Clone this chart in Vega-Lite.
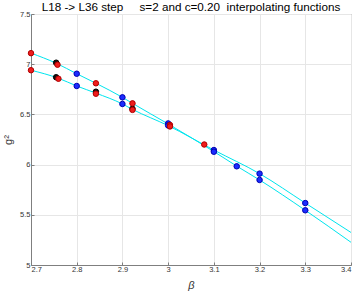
{
  "$schema": "https://vega.github.io/schema/vega-lite/v6.json",
  "width": 320,
  "height": 251,
  "autosize": "none",
  "padding": {"left": 31, "top": 14, "right": 6, "bottom": 28},
  "background": "white",
  "config": {
    "font": "Liberation Sans",
    "view": {"stroke": "#7f7f7f", "strokeWidth": 1},
    "axis": {
      "gridColor": "#e6e6e6",
      "domainColor": "#7f7f7f",
      "tickColor": "#7f7f7f",
      "labelColor": "#333333",
      "labelFontSize": 7.5,
      "labelFont": "Liberation Sans",
      "titleFont": "Liberation Sans",
      "titleFontWeight": "normal",
      "titleColor": "#333333",
      "tickSize": -3
    }
  },
  "title": {
    "text": "L18 -> L36 step\u00a0\u00a0\u00a0\u00a0 s=2 and c=0.20 \u00a0interpolating functions",
    "fontSize": 11.7,
    "fontWeight": "normal",
    "font": "Liberation Sans",
    "color": "#000000",
    "offset": -4,
    "anchor": "middle"
  },
  "datasets": {
    "curves": [
      {"beta": 2.7, "g2": 7.11, "curve": "A"},
      {"beta": 2.755, "g2": 7.01, "curve": "A"},
      {"beta": 2.8, "g2": 6.905, "curve": "A"},
      {"beta": 2.842, "g2": 6.81, "curve": "A"},
      {"beta": 2.9, "g2": 6.67, "curve": "A"},
      {"beta": 2.922, "g2": 6.61, "curve": "A"},
      {"beta": 3.0, "g2": 6.405, "curve": "A"},
      {"beta": 3.1, "g2": 6.13, "curve": "A"},
      {"beta": 3.15, "g2": 5.985, "curve": "A"},
      {"beta": 3.2, "g2": 5.847, "curve": "A"},
      {"beta": 3.3, "g2": 5.545, "curve": "A"},
      {"beta": 3.4, "g2": 5.226, "curve": "A"},
      {"beta": 2.7, "g2": 6.94, "curve": "B"},
      {"beta": 2.76, "g2": 6.86, "curve": "B"},
      {"beta": 2.8, "g2": 6.783, "curve": "B"},
      {"beta": 2.842, "g2": 6.712, "curve": "B"},
      {"beta": 2.9, "g2": 6.604, "curve": "B"},
      {"beta": 2.922, "g2": 6.55, "curve": "B"},
      {"beta": 3.0, "g2": 6.388, "curve": "B"},
      {"beta": 3.1, "g2": 6.145, "curve": "B"},
      {"beta": 3.2, "g2": 5.91, "curve": "B"},
      {"beta": 3.3, "g2": 5.617, "curve": "B"},
      {"beta": 3.4, "g2": 5.324, "curve": "B"}
    ],
    "points": [
      {"beta": 2.755, "g2": 7.015, "series": "black", "order": 1},
      {"beta": 2.755, "g2": 6.87, "series": "black", "order": 1},
      {"beta": 2.842, "g2": 6.726, "series": "black", "order": 1},
      {"beta": 2.922, "g2": 6.556, "series": "black", "order": 1},
      {"beta": 2.8, "g2": 6.905, "series": "blue", "order": 2},
      {"beta": 2.8, "g2": 6.783, "series": "blue", "order": 2},
      {"beta": 2.9, "g2": 6.67, "series": "blue", "order": 2},
      {"beta": 2.9, "g2": 6.604, "series": "blue", "order": 2},
      {"beta": 3.0, "g2": 6.41, "series": "blue", "order": 2},
      {"beta": 3.0, "g2": 6.39, "series": "blue", "order": 2},
      {"beta": 3.1, "g2": 6.145, "series": "blue", "order": 2},
      {"beta": 3.1, "g2": 6.128, "series": "blue", "order": 2},
      {"beta": 3.15, "g2": 5.983, "series": "blue", "order": 2},
      {"beta": 3.2, "g2": 5.91, "series": "blue", "order": 2},
      {"beta": 3.2, "g2": 5.847, "series": "blue", "order": 2},
      {"beta": 3.3, "g2": 5.617, "series": "blue", "order": 2},
      {"beta": 3.3, "g2": 5.545, "series": "blue", "order": 2},
      {"beta": 2.7, "g2": 7.11, "series": "red", "order": 3},
      {"beta": 2.7, "g2": 6.94, "series": "red", "order": 3},
      {"beta": 2.758, "g2": 6.995, "series": "red", "order": 3},
      {"beta": 2.76, "g2": 6.855, "series": "red", "order": 3},
      {"beta": 2.842, "g2": 6.81, "series": "red", "order": 3},
      {"beta": 2.842, "g2": 6.706, "series": "red", "order": 3},
      {"beta": 2.922, "g2": 6.61, "series": "red", "order": 3},
      {"beta": 2.922, "g2": 6.545, "series": "red", "order": 3},
      {"beta": 3.004, "g2": 6.395, "series": "red", "order": 3},
      {"beta": 3.004, "g2": 6.38, "series": "red", "order": 3},
      {"beta": 3.079, "g2": 6.2, "series": "red", "order": 3}
    ]
  },
  "encoding": {
    "x": {
      "field": "beta",
      "type": "quantitative",
      "scale": {"domain": [2.7, 3.4], "nice": false, "zero": false},
      "axis": {
        "values": [2.7, 2.8, 2.9, 3.0, 3.1, 3.2, 3.3, 3.4],
        "labelExpr": "format(datum.value, '.1~f')",
        "title": "β",
        "titleFontSize": 11,
        "titleFontStyle": "italic",
        "titlePadding": 7,
        "labelPadding": 3
      }
    },
    "y": {
      "field": "g2",
      "type": "quantitative",
      "scale": {"domain": [5, 7.5], "nice": false, "zero": false},
      "axis": {
        "values": [5, 5.5, 6, 6.5, 7, 7.5],
        "labelExpr": "format(datum.value, '.1~f')",
        "title": "g²",
        "titleFontSize": 11,
        "titlePadding": 6,
        "labelPadding": 4
      }
    }
  },
  "layer": [
    {
      "data": {"name": "curves"},
      "mark": {"type": "line", "color": "#00e5ee", "strokeWidth": 1, "interpolate": "monotone"},
      "encoding": {"detail": {"field": "curve"}}
    },
    {
      "data": {"name": "points"},
      "mark": {"type": "point", "shape": "circle", "filled": true, "size": 30, "opacity": 1, "strokeWidth": 1},
      "encoding": {
        "order": {"field": "order", "type": "quantitative"},
        "fill": {
          "field": "series",
          "type": "nominal",
          "scale": {"domain": ["black", "blue", "red"], "range": ["#111111", "#1a2cff", "#ee1c1c"]},
          "legend": null
        },
        "stroke": {
          "field": "series",
          "type": "nominal",
          "scale": {"domain": ["black", "blue", "red"], "range": ["#000000", "#0000b0", "#b00000"]},
          "legend": null
        }
      }
    }
  ]
}
